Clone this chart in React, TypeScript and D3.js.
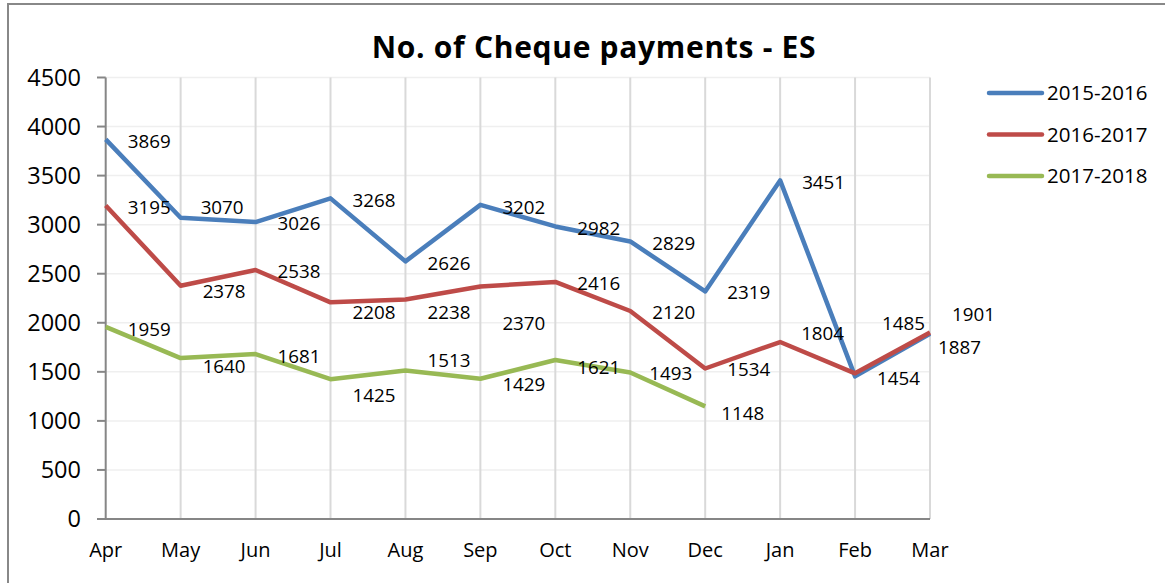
import React from "react";
import * as d3 from "d3";

const months = ["Apr", "May", "Jun", "Jul", "Aug", "Sep", "Oct", "Nov", "Dec", "Jan", "Feb", "Mar"];
const seriesNames = ["2015-2016", "2016-2017", "2017-2018"];
const values2015: (number | null)[] = [3869, 3070, 3026, 3268, 2626, 3202, 2982, 2829, 2319, 3451, 1454, 1887];
const values2016: (number | null)[] = [3195, 2378, 2538, 2208, 2238, 2370, 2416, 2120, 1534, 1804, 1485, 1901];
const values2017: (number | null)[] = [1959, 1640, 1681, 1425, 1513, 1429, 1621, 1493, 1148, null, null, null];
const yTicks = [0, 500, 1000, 1500, 2000, 2500, 3000, 3500, 4000, 4500];
const colors = ["#4A7EBB", "#BE4B48", "#98B954"];

// label offsets (dx from point, dy from point) – styling only
const labelDy = [
  [2, -11, 1, 2, 2, 2, 2, 2, 1, 2, 2, 13],
  [2, 6, 1, 10, 13, 37, 1, 1, 1, -9, -50, -18],
  [2, 8, 2, 16, -10, 5, 7, 1, 7, 0, 0, 0],
];
const labelDx = [
  [22, 20, 22, 22, 22, 22, 22, 22, 22, 22, 22, 8],
  [22, 22, 22, 22, 22, 22, 22, 22, 22, 21, 27, 22],
  [22, 22, 22, 22, 22, 22, 22, 19, 16, 0, 0, 0],
];

const FONT = "'Open Sans', 'Noto Sans', sans-serif";

export default function App() {
  const W = 1165, H = 583;
  const x = d3.scalePoint<string>().domain(months).range([105.7, 930]);
  const y = d3.scaleLinear().domain([0, 4500]).range([519, 77.5]);
  const allSeries = [values2015, values2016, values2017];
  const line = d3
    .line<number | null>()
    .defined((d) => d !== null)
    .x((_, i) => x(months[i]) as number)
    .y((d) => y(d as number));

  return (
    <svg width={W} height={H} style={{ position: "absolute", left: 0, top: 0, background: "#fff" }}>
      <rect x={8} y={4} width={W} height={H} fill="#fff" stroke="#888" strokeWidth={2} />
      {/* horizontal gridlines */}
      {yTicks.slice(1).map((t) => (
        <line key={"h" + t} x1={105.7} x2={930} y1={y(t)} y2={y(t)} stroke="#efefef" strokeWidth={1.5} />
      ))}
      {/* vertical gridlines */}
      {months.slice(1).map((m) => (
        <line key={"v" + m} x1={x(m)} x2={x(m)} y1={y(4500)} y2={y(0)} stroke="#d9d9d9" strokeWidth={2} />
      ))}
      {/* axes */}
      <line x1={105.7} x2={105.7} y1={y(4500)} y2={y(0)} stroke="#868686" strokeWidth={2} />
      <line x1={97} x2={930} y1={y(0)} y2={y(0)} stroke="#868686" strokeWidth={2} />
      {yTicks.map((t) => (
        <g key={"yt" + t}>
          <line x1={97} x2={105.7} y1={y(t)} y2={y(t)} stroke="#868686" strokeWidth={2} />
          <text x={81} y={y(t)} dy="0.36em" textAnchor="end" fontFamily={FONT} fontSize={23.5} fill="#000">
            {t}
          </text>
        </g>
      ))}
      {months.map((m) => (
        <text key={"xl" + m} x={x(m)} y={557} textAnchor="middle" fontFamily={FONT} fontSize={20} fill="#000">
          {m}
        </text>
      ))}
      {/* title */}
      <text x={594} y={58} textAnchor="middle" fontFamily={FONT} fontWeight="bold" fontSize={30} letterSpacing={0.7} fill="#000">
        No. of Cheque payments - ES
      </text>
      {/* lines */}
      {allSeries.map((s, si) => (
        <path
          key={"l" + si}
          d={line(s) || ""}
          fill="none"
          stroke={colors[si]}
          strokeWidth={4.5}
          strokeLinejoin="round"
        />
      ))}
      {/* data labels */}
      {allSeries.map((s, si) =>
        s.map((v, i) =>
          v === null ? null : (
            <text
              key={"dl" + si + "-" + i}
              x={(x(months[i]) as number) + labelDx[si][i]}
              y={y(v) + labelDy[si][i]}
              dy="0.36em"
              fontFamily={FONT}
              fontSize={18.8}
              fill="#000"
            >
              {v}
            </text>
          )
        )
      )}
      {/* legend */}
      {seriesNames.map((n, i) => {
        const ly = 93 + i * 41.5;
        return (
          <g key={"lg" + n}>
            <line x1={989} x2={1042} y1={ly} y2={ly} stroke={colors[i]} strokeWidth={4.5} strokeLinecap="round" />
            <text x={1047} y={ly} dy="0.36em" fontFamily={FONT} fontSize={20.5} fill="#000">
              {n}
            </text>
          </g>
        );
      })}
    </svg>
  );
}
